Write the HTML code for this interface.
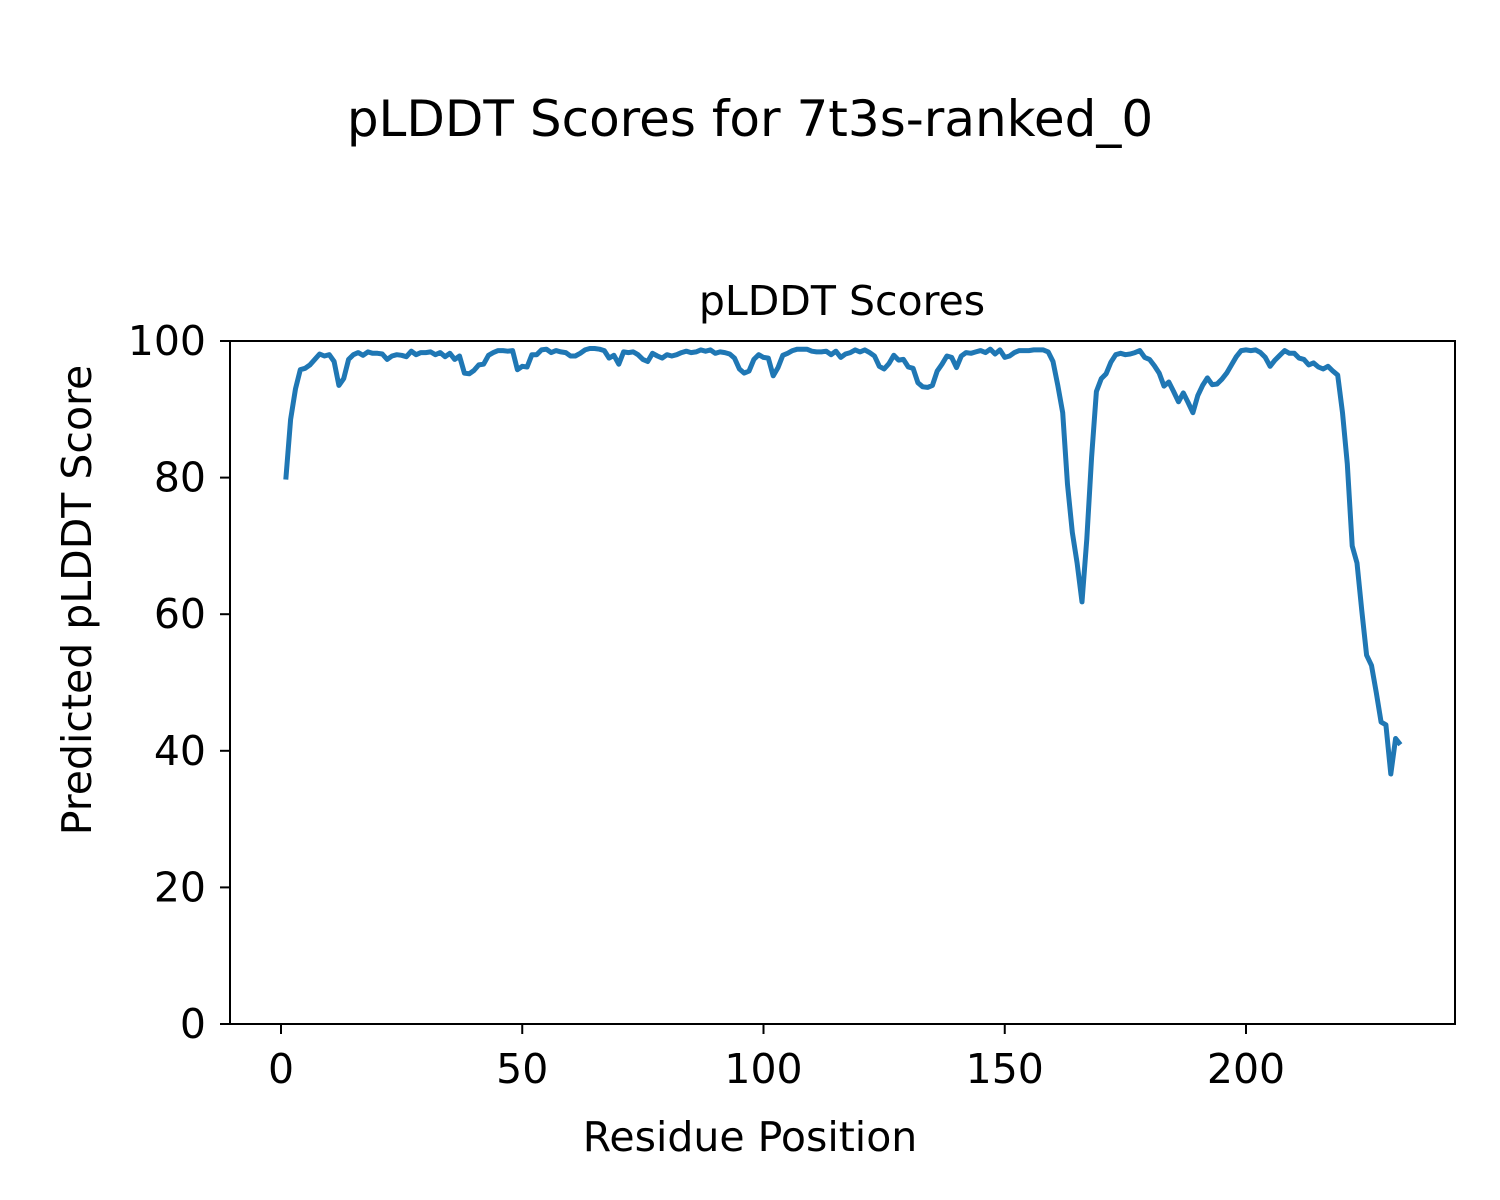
<!DOCTYPE html>
<html><head><meta charset="utf-8"><style>
body{margin:0;background:#fff}
svg{display:block;font-family:"DejaVu Sans","Liberation Sans",sans-serif}
</style></head><body>
<svg id="chart" width="1500" height="1200" viewBox="0 0 1500 1200">
<rect width="1500" height="1200" fill="#fff"/>
<text x="750" y="136" font-size="50" text-anchor="middle">pLDDT Scores for 7t3s-ranked_0</text>
<text x="842" y="315" font-size="41" text-anchor="middle">pLDDT Scores</text>
<g id="xticks"></g>
<g id="yticks"></g>
<polyline id="line" fill="none" stroke="#1f77b4" stroke-width="5" stroke-linejoin="round"/>
<rect x="230" y="341" width="1225" height="683" fill="none" stroke="#000" stroke-width="2"/>
<text x="750" y="1151" font-size="41" text-anchor="middle">Residue Position</text>
<text x="0" y="0" font-size="41" text-anchor="middle" transform="translate(91,600) rotate(-90)">Predicted pLDDT Score</text>
</svg>
<script>
const scores = [79.7,88.5,93,95.8,96,96.5,97.3,98.1,97.8,98,97,93.5,94.5,97.3,98,98.3,97.9,98.4,98.2,98.2,
98.1,97.3,97.8,98,97.9,97.7,98.5,98,98.3,98.3,98.4,98,98.3,97.7,98.2,97.3,97.8,95.3,95.2,95.7,
96.5,96.6,97.9,98.3,98.6,98.6,98.5,98.6,95.8,96.3,96.2,98,98,98.7,98.8,98.3,98.6,98.4,98.3,97.8,
97.8,98.2,98.7,98.9,98.9,98.8,98.6,97.5,97.9,96.6,98.4,98.3,98.4,98,97.3,97,98.2,97.8,97.5,98,
97.8,98,98.3,98.5,98.3,98.4,98.7,98.5,98.7,98.2,98.4,98.3,98.1,97.5,95.9,95.3,95.6,97.3,98,97.6,
97.5,94.9,96.1,97.9,98.2,98.6,98.8,98.8,98.8,98.5,98.4,98.4,98.5,98,98.5,97.6,98.1,98.3,98.7,98.4,
98.7,98.3,97.8,96.3,95.9,96.7,97.9,97.2,97.3,96.2,96,93.9,93.3,93.2,93.5,95.6,96.6,97.8,97.6,96.1,
97.8,98.3,98.2,98.4,98.6,98.3,98.8,98.1,98.7,97.6,97.8,98.3,98.6,98.6,98.6,98.7,98.7,98.7,98.4,97,
93.5,89.5,79,72,67.5,61.8,71,83,92.6,94.5,95.2,96.9,98,98.2,98,98.1,98.3,98.6,97.6,97.3,
96.4,95.3,93.4,94,92.6,91.1,92.4,91,89.5,92,93.5,94.6,93.6,93.7,94.4,95.3,96.5,97.7,98.6,98.7,
98.6,98.7,98.3,97.6,96.3,97.2,97.9,98.6,98.2,98.2,97.5,97.3,96.5,96.8,96.2,95.9,96.3,95.6,95,89.5,
82,70,67.5,60.5,54,52.5,48.5,44.2,43.8,36.6,41.8,40.9];
const xTickValues = [0,50,100,150,200];
const yTickValues = [0,20,40,60,80,100];
const NS='http://www.w3.org/2000/svg';
function xs(v){return 281+4.825*v;}
function ys(v){return 1024-6.83*v;}
const pts = scores.map((s,i)=>xs(i+1).toFixed(1)+','+ys(s).toFixed(1)).join(' ');
document.getElementById('line').setAttribute('points',pts);
const xg=document.getElementById('xticks');
xTickValues.forEach(v=>{
  const l=document.createElementNS(NS,'line');
  l.setAttribute('x1',xs(v));l.setAttribute('x2',xs(v));l.setAttribute('y1',1024);l.setAttribute('y2',1034);
  l.setAttribute('stroke','#000');l.setAttribute('stroke-width','2');
  
  
  xg.appendChild(l);
  const t=document.createElementNS(NS,'text');
  t.setAttribute('x',xs(v));t.setAttribute('y',1083);t.setAttribute('font-size','41');t.setAttribute('text-anchor','middle');
  t.textContent=v;
  
  
  xg.appendChild(t);
});
const yg=document.getElementById('yticks');
yTickValues.forEach(v=>{
  const l=document.createElementNS(NS,'line');
  l.setAttribute('x1',220);l.setAttribute('x2',230);l.setAttribute('y1',ys(v));l.setAttribute('y2',ys(v));
  l.setAttribute('stroke','#000');l.setAttribute('stroke-width','2');
  
  
  yg.appendChild(l);
  const t=document.createElementNS(NS,'text');
  t.setAttribute('x',206);t.setAttribute('y',ys(v)+14);t.setAttribute('font-size','41');t.setAttribute('text-anchor','end');
  t.textContent=v;
  
  
  yg.appendChild(t);
});
</script>
</body></html>
